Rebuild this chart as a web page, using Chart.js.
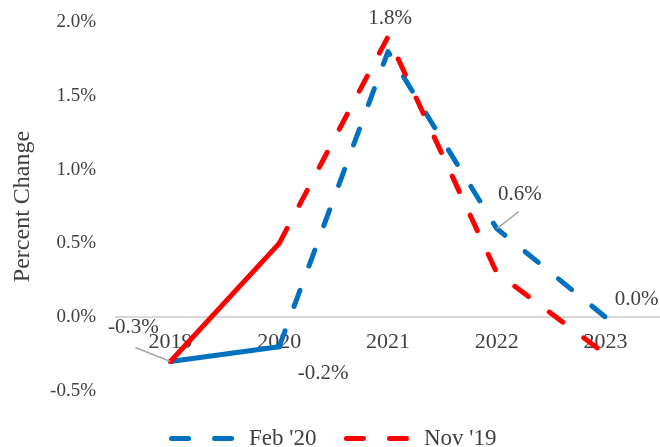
<!DOCTYPE html>
<html>
<head>
<meta charset="utf-8">
<script src="https://cdn.jsdelivr.net/npm/chart.js@4"></script>
<style>
  html, body { margin: 0; padding: 0; background: #fff; overflow: hidden; }
  #wrap { position: relative; width: 660px; height: 447px; overflow: hidden; }
  #box { position: absolute; left: 0; top: 0; width: 660px; height: 454px; }
</style>
</head>
<body>
<div id="wrap"><div id="box"><canvas id="chart"></canvas></div></div>
<script>
// Forecast vintages of annual percent change
const years = ['2019', '2020', '2021', '2022', '2023'];
const feb20 = [-0.3, -0.2, 1.8, 0.6, 0.0];
const nov19 = [-0.3, 0.5, 1.9, 0.3, -0.25];
const seriesNames = ["Feb '20", "Nov '19"];
const yTickRange = [-0.5, 2.0];
const yTickStep = 0.5;

const FONT = "'Liberation Serif', 'Times New Roman', serif";
const TEXT = '#404040';
const BLUE = '#0070C0';
const RED = '#FF0000';
const DASH = [17, 26];

// Solid from 2019 to 2020, dashed for the projected years
const projDash = ctx => (ctx.p0DataIndex >= 1 ? DASH : []);

// Value labels on the Feb '20 series, with leader lines where needed
const labelSpots = [
  { dx: -37, dy: -34, lead: [-35, -14] },
  { dx: 44, dy: 27 },
  { dx: 2, dy: -33 },
  { dx: 23, dy: -34, lead: [22, -17] },
  { dx: 31, dy: -18 }
];

const valueLabels = {
  id: 'valueLabels',
  afterDatasetsDraw(chart) {
    const meta = chart.getDatasetMeta(0);
    const values = chart.data.datasets[0].data;
    const ctx = chart.ctx;
    ctx.save();
    meta.data.forEach((pt, i) => {
      const s = labelSpots[i];
      if (s.lead) {
        ctx.strokeStyle = '#a6a6a6';
        ctx.lineWidth = 1.5;
        ctx.beginPath();
        ctx.moveTo(pt.x + s.lead[0], pt.y + s.lead[1]);
        ctx.lineTo(pt.x, pt.y);
        ctx.stroke();
      }
    });
    ctx.font = '21px ' + FONT;
    ctx.fillStyle = TEXT;
    ctx.textAlign = 'center';
    ctx.textBaseline = 'middle';
    meta.data.forEach((pt, i) => {
      const s = labelSpots[i];
      ctx.fillText(values[i].toFixed(1) + '%', pt.x + s.dx, pt.y + s.dy);
    });
    ctx.restore();
  }
};

// Nudge the legend row a little lower and to the right
const legendNudge = {
  id: 'legendNudge',
  afterLayout(chart) {
    const lg = chart.legend;
    if (lg) {
      lg.top += 6; lg.bottom += 6;
      lg.left += 4; lg.right += 4;
    }
  }
};

new Chart(document.getElementById('chart'), {
  type: 'line',
  data: {
    labels: years,
    datasets: [
      {
        label: seriesNames[0],
        data: feb20,
        borderColor: BLUE,
        backgroundColor: BLUE,
        order: 1
      },
      {
        label: seriesNames[1],
        data: nov19,
        borderColor: RED,
        backgroundColor: RED,
        order: 0
      }
    ].map(d => Object.assign(d, {
      borderWidth: 5,
      borderCapStyle: 'round',
      borderJoinStyle: 'round',
      pointRadius: 0,
      pointHoverRadius: 0,
      tension: 0,
      fill: false,
      segment: { borderDash: projDash }
    }))
  },
  options: {
    responsive: true,
    maintainAspectRatio: false,
    animation: false,
    events: [],
    layout: { padding: { top: 22, left: 0, right: 0, bottom: 0 } },
    scales: {
      x: {
        type: 'category',
        position: { y: 0 },
        offset: true,
        grid: { display: false, drawTicks: false },
        border: { display: true, color: '#d9d9d9', width: 2 },
        ticks: {
          color: TEXT,
          font: { family: FONT, size: 22 },
          padding: 12,
          maxRotation: 0
        }
      },
      y: {
        min: yTickRange[0],
        max: yTickRange[1],
        grid: { display: false, drawTicks: false },
        border: { display: false },
        ticks: {
          stepSize: yTickStep,
          color: TEXT,
          font: { family: FONT, size: 19 },
          padding: 20,
          callback: v => v.toFixed(1) + '%'
        },
        title: {
          display: true,
          text: 'Percent Change',
          color: TEXT,
          font: { family: FONT, size: 24 },
          padding: { top: 8, bottom: 0 }
        },
        afterFit(scale) {
          scale.width = 116;
          scale.paddingTop = 12;
        }
      }
    },
    plugins: {
      tooltip: { enabled: false },
      legend: {
        position: 'bottom',
        labels: {
          color: TEXT,
          font: { family: FONT, size: 23 },
          usePointStyle: true,
          pointStyleWidth: 66,
          padding: 30,
          sort: (a, b) => a.datasetIndex - b.datasetIndex,
          generateLabels(chart) {
            const items = Chart.defaults.plugins.legend.labels.generateLabels(chart);
            items.forEach(it => {
              it.pointStyle = 'line';
              it.lineDash = DASH;
              it.lineCap = 'round';
              it.lineWidth = 5;
            });
            return items;
          }
        }
      }
    }
  },
  plugins: [valueLabels, legendNudge]
});
</script>
</body>
</html>
